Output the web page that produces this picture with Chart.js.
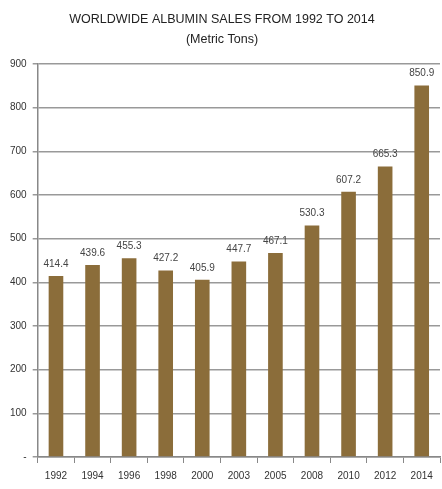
<!DOCTYPE html>
<html>
<head>
<meta charset="utf-8">
<script src="https://cdn.jsdelivr.net/npm/chart.js@4.4.0/dist/chart.umd.min.js"></script>
<style>
  html, body { margin: 0; padding: 0; background: #fff; }
  #wrap { width: 442px; height: 489px; }
</style>
</head>
<body>
<div id="wrap"><canvas id="albuminChart"></canvas></div>
<script>
// Chart data
const years = ['1992', '1994', '1996', '1998', '2000', '2003', '2005', '2008', '2010', '2012', '2014'];
const sales = [414.4, 439.6, 455.3, 427.2, 405.9, 447.7, 467.1, 530.3, 607.2, 665.3, 850.9];
const titleLines = ['WORLDWIDE ALBUMIN SALES FROM 1992 TO 2014', '(Metric Tons)'];

const FONT = "'Liberation Sans Narrow', 'Liberation Sans', sans-serif";

// Draws the value above each bar
const barLabels = {
    id: 'barLabels',
    afterDatasetsDraw(chart) {
        const ctx = chart.ctx;
        const meta = chart.getDatasetMeta(0);
        ctx.save();
        ctx.fillStyle = '#444';
        ctx.font = '10px ' + FONT;
        ctx.textAlign = 'center';
        ctx.textBaseline = 'bottom';
        meta.data.forEach((bar, i) => {
            ctx.fillText(sales[i].toFixed(1), bar.x, bar.y - 7);
        });
        ctx.restore();
    }
};

new Chart(document.getElementById('albuminChart'), {
    type: 'bar',
    data: {
        labels: years,
        datasets: [{
            data: sales,
            backgroundColor: '#8b6d3a',
            borderWidth: 0,
            categoryPercentage: 1,
            barPercentage: 0.4
        }]
    },
    options: {
        responsive: true,
        maintainAspectRatio: false,
        animation: false,
        layout: { padding: { left: 4, right: 2, top: 0, bottom: 0 } },
        plugins: {
            legend: { display: false },
            tooltip: { enabled: false },
            title: {
                display: true,
                text: titleLines,
                color: '#222',
                font: { family: FONT, size: 12.5, weight: 'normal', lineHeight: 1.6 },
                padding: { top: 10, bottom: 14 }
            }
        },
        scales: {
            x: {
                offset: true,
                grid: { drawOnChartArea: false, offset: true, tickLength: 6, color: '#888' },
                border: { color: '#888', width: 1.5 },
                ticks: { color: '#333', font: { family: FONT, size: 10 }, padding: 7, maxRotation: 0 }
            },
            y: {
                min: 0,
                max: 900,
                ticks: {
                    stepSize: 100,
                    color: '#333',
                    font: { family: FONT, size: 10 },
                    padding: 6,
                    callback: v => v === 0 ? '-' : v
                },
                grid: { color: '#999', lineWidth: 1.5, tickLength: 5 },
                border: { color: '#888', width: 1.5 }
            }
        }
    },
    plugins: [barLabels]
});
</script>
</body>
</html>
